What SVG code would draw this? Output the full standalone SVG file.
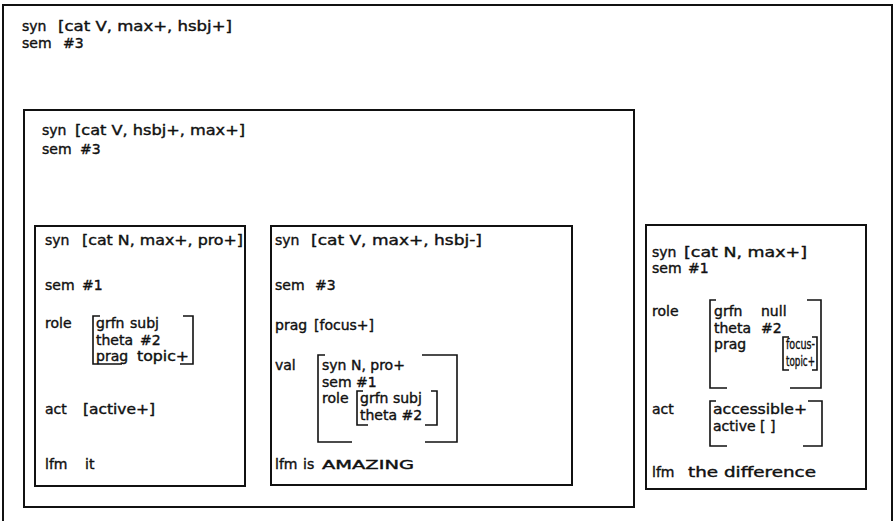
<svg xmlns="http://www.w3.org/2000/svg" width="895" height="521" viewBox="0 0 895 521">
<style>
text{font-family:"DejaVu Sans","Liberation Sans",sans-serif;font-size:14px;fill:#111;stroke:#111;stroke-width:0.4}
.box{fill:none;stroke:#111;stroke-width:2}
.br{fill:none;stroke:#111;stroke-width:1.6}
.sc{font-size:12px}
</style>
<rect width="895" height="521" fill="#fff"/>
<g id="outer">
<path class="box" d="M3,521 V5 H892 V521"/>
<text x="22" y="31">syn</text><text x="58" y="31" textLength="174" lengthAdjust="spacingAndGlyphs">[cat V, max+, hsbj+]</text>
<text x="22" y="48">sem</text><text x="63" y="48">#3</text>
</g>
<g id="vp">
<rect class="box" x="24" y="110" width="610" height="397"/>
<text x="42" y="135">syn</text><text x="75" y="135" textLength="170" lengthAdjust="spacingAndGlyphs">[cat V, hsbj+, max+]</text>
<text x="42" y="154">sem</text><text x="80" y="154">#3</text>
</g>
<g id="np-it">
<rect class="box" x="35" y="226" width="210" height="260"/>
<text x="45" y="245">syn</text><text x="82" y="245" textLength="161" lengthAdjust="spacingAndGlyphs">[cat N, max+, pro+]</text>
<text x="45" y="290">sem</text><text x="82" y="290">#1</text>
<text x="45" y="328">role</text>
<path class="br" d="M100,316 H93 V364 H122 M183,316 H193 V364 H180"/>
<text x="96" y="328">grfn</text><text x="130" y="328">subj</text>
<text x="96" y="344.5">theta</text><text x="140" y="344.5">#2</text>
<text x="96" y="361">prag</text><text x="137" y="361" textLength="52" lengthAdjust="spacingAndGlyphs">topic+</text>
<text x="45" y="414">act</text><text x="83" y="414" textLength="72" lengthAdjust="spacingAndGlyphs">[active+]</text>
<text x="45" y="469">lfm</text><text x="85" y="469">it</text>
</g>
<g id="v-amazing">
<rect class="box" x="271" y="226" width="301" height="259"/>
<text x="275" y="245">syn</text><text x="311" y="245" textLength="171" lengthAdjust="spacingAndGlyphs">[cat V, max+, hsbj-]</text>
<text x="275" y="290">sem</text><text x="315" y="290">#3</text>
<text x="275" y="330">prag</text><text x="314" y="330">[focus+]</text>
<text x="275" y="370">val</text>
<path class="br" d="M325,355 H318 V442 H352 M422,355 H457 V442 H425"/>
<text x="322" y="370">syn N, pro+</text>
<text x="322" y="386.5">sem #1</text>
<text x="322" y="403">role</text>
<path class="br" d="M363,391 H357 V425 H368 M431,391 H437 V425 H425"/>
<text x="360" y="403">grfn subj</text>
<text x="360" y="419.5">theta #2</text>
<text x="275" y="469">lfm</text><text x="303" y="469">is</text><text class="sc" x="322" y="469" textLength="92" lengthAdjust="spacingAndGlyphs">AMAZING</text>
</g>
<g id="np-difference">
<rect class="box" x="646" y="225" width="220" height="264"/>
<text x="652" y="256.5">syn</text><text x="684" y="256.5" textLength="123" lengthAdjust="spacingAndGlyphs">[cat N, max+]</text>
<text x="652" y="273">sem</text><text x="688" y="273">#1</text>
<text x="652" y="316">role</text>
<path class="br" d="M716,300 H710 V388 H727 M807,300 H821 V388 H790"/>
<text x="714" y="316">grfn</text><text x="761" y="316">null</text>
<text x="714" y="332.5">theta</text><text x="761" y="332.5">#2</text>
<text x="714" y="349">prag</text>
<path class="br" d="M789,337 H783 V370 H789 M812,337 H817 V370 H812"/>
<text x="786" y="349" textLength="29" lengthAdjust="spacingAndGlyphs">focus-</text>
<text x="786" y="365.5" textLength="29" lengthAdjust="spacingAndGlyphs">topic+</text>
<text x="652" y="414">act</text>
<path class="br" d="M716,401 H710 V446 H727 M808,401 H822 V446 H803"/>
<text x="713" y="414" textLength="94" lengthAdjust="spacingAndGlyphs">accessible+</text>
<text x="713" y="430.5">active [ ]</text>
<text x="652" y="477">lfm</text><text x="688" y="477" textLength="128" lengthAdjust="spacingAndGlyphs">the difference</text>
</g>
</svg>
